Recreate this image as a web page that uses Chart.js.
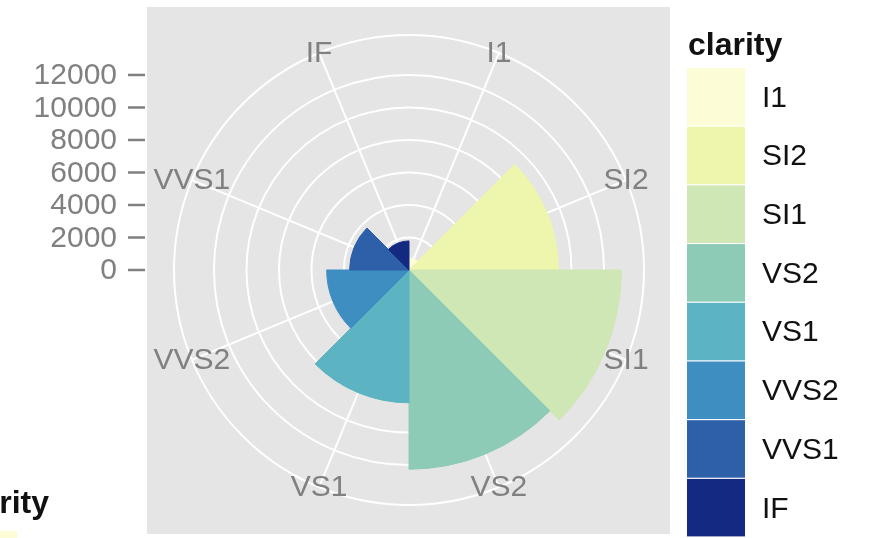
<!DOCTYPE html>
<html>
<head>
<meta charset="utf-8">
<title>clarity</title>
<script src="https://cdn.jsdelivr.net/npm/chart.js@4"></script>
<style>
  html, body { margin: 0; padding: 0; background: #fff; }
  #wrap { position: relative; width: 878px; height: 538px; overflow: hidden; }
</style>
</head>
<body>
<div id="wrap"><canvas id="coxcomb"></canvas></div>
<script>
// diamond counts per clarity grade, clockwise from 12 o'clock
const clarity = ['I1', 'SI2', 'SI1', 'VS2', 'VS1', 'VVS2', 'VVS1', 'IF'];
const counts = [741, 9194, 13065, 12258, 8171, 5066, 3655, 1790];
const fills = ['#fcfdd6', '#eef6ae', '#cfe7b4', '#8dcbb7', '#5cb4c2', '#3e8ec2', '#2e5fa9', '#142a82'];
const radialTicks = [0, 2000, 4000, 6000, 8000, 10000, 12000];
const radialMax = 14460;   // outer ring of the panel

const FONT = '"Liberation Sans", Arial, sans-serif';
const PANEL = { left: 147, top: 7, right: 670, bottom: 534 };

const ggDecor = {
    id: 'ggDecor',
    beforeDraw(chart) {
        const ctx = chart.ctx;
        ctx.save();
        ctx.fillStyle = '#e5e5e5';
        ctx.fillRect(PANEL.left, PANEL.top, PANEL.right - PANEL.left, PANEL.bottom - PANEL.top);
        ctx.restore();
    },
    beforeDatasetsDraw(chart) {
        // spokes through the middle of each wedge
        const s = chart.scales.r;
        const ctx = chart.ctx;
        const outer = s.getDistanceFromCenterForValue(s.max);
        const half = Math.PI / clarity.length;
        ctx.save();
        ctx.strokeStyle = '#fff';
        ctx.lineWidth = 2;
        clarity.forEach((_, i) => {
            const a = s.getIndexAngle(i) + half - Math.PI / 2;
            ctx.beginPath();
            ctx.moveTo(s.xCenter, s.yCenter);
            ctx.lineTo(s.xCenter + outer * Math.cos(a), s.yCenter + outer * Math.sin(a));
            ctx.stroke();
        });
        ctx.restore();
    },
    afterDraw(chart) {
        const s = chart.scales.r;
        const ctx = chart.ctx;
        const outer = s.getDistanceFromCenterForValue(s.max);
        const half = Math.PI / clarity.length;
        ctx.save();

        // category labels sit on the outer ring
        ctx.font = '30px ' + FONT;
        ctx.fillStyle = '#808080';
        ctx.textAlign = 'center';
        ctx.textBaseline = 'middle';
        clarity.forEach((name, i) => {
            const a = s.getIndexAngle(i) + half - Math.PI / 2;
            ctx.fillText(name, s.xCenter + outer * Math.cos(a), s.yCenter + outer * Math.sin(a) + 1);
        });

        // radial axis drawn as a plain y axis on the left
        ctx.textAlign = 'right';
        ctx.strokeStyle = '#808080';
        ctx.lineWidth = 2.5;
        radialTicks.forEach(v => {
            const y = s.yCenter - s.getDistanceFromCenterForValue(v);
            ctx.fillText(String(v), 117, y + 1);
            ctx.beginPath();
            ctx.moveTo(128, y);
            ctx.lineTo(145, y);
            ctx.stroke();
        });

        // legend
        ctx.textAlign = 'left';
        ctx.fillStyle = '#111';
        ctx.font = 'bold 32px ' + FONT;
        ctx.textBaseline = 'alphabetic';
        ctx.fillText('clarity', 688, 55);
        ctx.font = '30px ' + FONT;
        ctx.textBaseline = 'middle';
        const keyTop = 68, keyStep = 58.7;
        clarity.forEach((name, i) => {
            const y = keyTop + i * keyStep;
            ctx.fillStyle = fills[i];
            ctx.fillRect(687, y, 58, keyStep - 1.2);
            ctx.fillStyle = '#111';
            ctx.fillText(name, 762, y + keyStep / 2 + 1);
        });

        // leftover of a second legend at the bottom-left edge
        ctx.font = 'bold 32px ' + FONT;
        ctx.textAlign = 'right';
        ctx.textBaseline = 'alphabetic';
        ctx.fillText('clarity', 49, 513);
        ctx.fillStyle = fills[0];
        ctx.fillRect(0, 531, 17, 10);

        ctx.restore();
    }
};

new Chart(document.getElementById('coxcomb'), {
    type: 'polarArea',
    data: {
        labels: clarity,
        datasets: [{ data: counts, backgroundColor: fills, borderColor: fills, borderWidth: 1 }]
    },
    options: {
        responsive: true,
        maintainAspectRatio: false,
        animation: false,
        layout: { padding: { left: 174, right: 234, top: 35, bottom: 33 } },
        plugins: { legend: { display: false }, tooltip: { enabled: false } },
        scales: {
            r: {
                min: 0,
                max: radialMax,
                ticks: { display: false },
                grid: { color: '#fff', lineWidth: 2 },
                angleLines: { display: false },
                pointLabels: { display: false },
                afterBuildTicks: scale => {
                    scale.ticks = radialTicks.concat(radialMax).map(v => ({ value: v }));
                }
            }
        }
    },
    plugins: [ggDecor]
});
</script>
</body>
</html>
